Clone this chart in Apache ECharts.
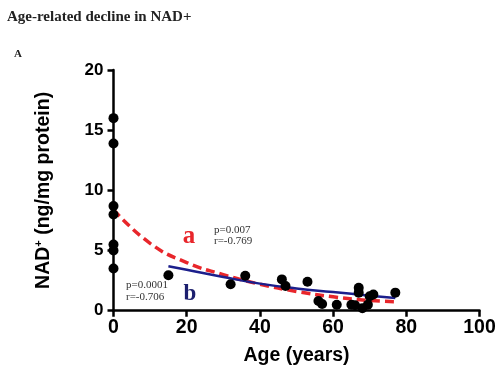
<!DOCTYPE html>
<html>
<head>
<meta charset="utf-8">
<script src="https://cdn.jsdelivr.net/npm/echarts@6/dist/echarts.min.js"></script>
<style>
html,body{margin:0;padding:0;background:#fff;}
#chart{width:500px;height:376px;}
</style>
</head>
<body>
<div id="chart"></div>
<script>
// Measured data points: [age (years), NAD+ (ng/mg protein)]
var points = [
  [0, 16.0], [0, 13.9], [0, 8.7], [0, 8.0], [0, 5.5], [0, 5.0], [0, 3.5],
  [15, 2.95], [32, 2.2], [36, 2.9], [46, 2.6], [47, 2.05], [53, 2.4],
  [56, 0.8], [57, 0.55], [61, 0.5], [65, 0.5], [66, 0.45], [67, 1.9],
  [67, 1.5], [68, 0.2], [69.5, 0.5], [70, 1.2], [71, 1.35], [77, 1.5]
];
// Fit curve "a" (red dashed)
var fitA = [[0, 8.4], [10, 5.6], [20, 4.0], [30, 3.0], [40, 2.2], [50, 1.6], [60, 1.15], [70, 0.85], [77, 0.75]];
// Fit curve "b" (blue solid)
var fitB = [[15, 3.7], [20, 3.4], [30, 2.8], [40, 2.25], [50, 1.85], [60, 1.55], [70, 1.25], [77, 1.05]];
var xTicks = [0, 20, 40, 60, 80, 100];
var yTicks = [0, 5, 10, 15, 20];

var chart = echarts.init(document.getElementById('chart'), null, {renderer: 'canvas'});
var sans = '"Liberation Sans", Arial, sans-serif';
var serif = '"Liberation Serif", "Times New Roman", serif';
chart.setOption({
  animation: false,
  backgroundColor: '#fff',
  title: {
    text: 'Age-related decline in NAD+',
    left: 2, top: 5,
    textStyle: {fontFamily: serif, fontWeight: 'bold', fontSize: 15, color: '#222'}
  },
  grid: {left: 113.5, right: 20.5, top: 70, bottom: 65.3, containLabel: false},
  xAxis: {
    type: 'value', min: 0, max: 100, interval: 20,
    name: 'Age (years)', nameLocation: 'middle', nameGap: 35,
    nameTextStyle: {fontFamily: sans, fontWeight: 'bold', fontSize: 19.5, color: '#000'},
    axisLine: {show: true, onZero: false, lineStyle: {color: '#000', width: 2.5}},
    axisTick: {show: true, inside: false, length: 6, lineStyle: {color: '#000', width: 2.5}},
    axisLabel: {fontFamily: sans, fontWeight: 'bold', fontSize: 19.5, color: '#000', margin: 7,
      formatter: function (v) { return xTicks.indexOf(v) >= 0 ? String(v) : ''; }},
    splitLine: {show: false}
  },
  yAxis: {
    type: 'value', min: 0, max: 20, interval: 5,
    name: '{n|NAD}{s|+}{n| (ng/mg protein)}', nameLocation: 'middle', nameGap: 60, nameRotate: 90,
    nameTextStyle: {
      fontFamily: sans, fontWeight: 'bold', fontSize: 19.5, color: '#000',
      rich: {
        n: {fontFamily: sans, fontWeight: 'bold', fontSize: 19.5, color: '#000'},
        s: {fontFamily: sans, fontWeight: 'bold', fontSize: 11, color: '#000', verticalAlign: 'top', padding: [0, 0, 9, 0]}
      }
    },
    axisLine: {show: true, onZero: false, lineStyle: {color: '#000', width: 2.5}},
    axisTick: {show: true, inside: false, length: 6, lineStyle: {color: '#000', width: 2.5}},
    axisLabel: {fontFamily: sans, fontWeight: 'bold', fontSize: 17, color: '#000', margin: 10,
      formatter: function (v) { return yTicks.indexOf(v) >= 0 ? String(v) : ''; }},
    splitLine: {show: false}
  },
  series: [
    {
      type: 'line', data: fitA, smooth: true, showSymbol: false, z: 3,
      lineStyle: {color: '#e8262b', width: 3.5, type: [9, 5]}
    },
    {
      type: 'line', data: fitB, smooth: true, showSymbol: false, z: 3,
      lineStyle: {color: '#1c1f8c', width: 2.5}
    },
    {
      type: 'scatter', data: points, symbol: 'circle', symbolSize: 10, z: 4,
      itemStyle: {color: '#000', opacity: 1}
    }
  ],
  graphic: [
    {type: 'text', left: 14, top: 49, style: {text: 'A', font: 'bold 11px ' + serif, fill: '#222'}},
    {type: 'text', x: 189, y: 237, style: {text: 'a', font: 'bold 25px ' + serif, fill: '#e8262b', align: 'center', verticalAlign: 'middle'}},
    {type: 'text', x: 214, y: 230, style: {text: 'p=0.007', font: '11px ' + serif, fill: '#333', verticalAlign: 'middle'}},
    {type: 'text', x: 214, y: 241, style: {text: 'r=-0.769', font: '11px ' + serif, fill: '#333', verticalAlign: 'middle'}},
    {type: 'text', x: 190, y: 294, style: {text: 'b', font: 'bold 23px ' + serif, fill: '#1c1f6e', align: 'center', verticalAlign: 'middle'}},
    {type: 'text', x: 126, y: 285.5, style: {text: 'p=0.0001', font: '11px ' + serif, fill: '#333', verticalAlign: 'middle'}},
    {type: 'text', x: 126, y: 297, style: {text: 'r=-0.706', font: '11px ' + serif, fill: '#333', verticalAlign: 'middle'}}
  ]
});
</script>
</body>
</html>
